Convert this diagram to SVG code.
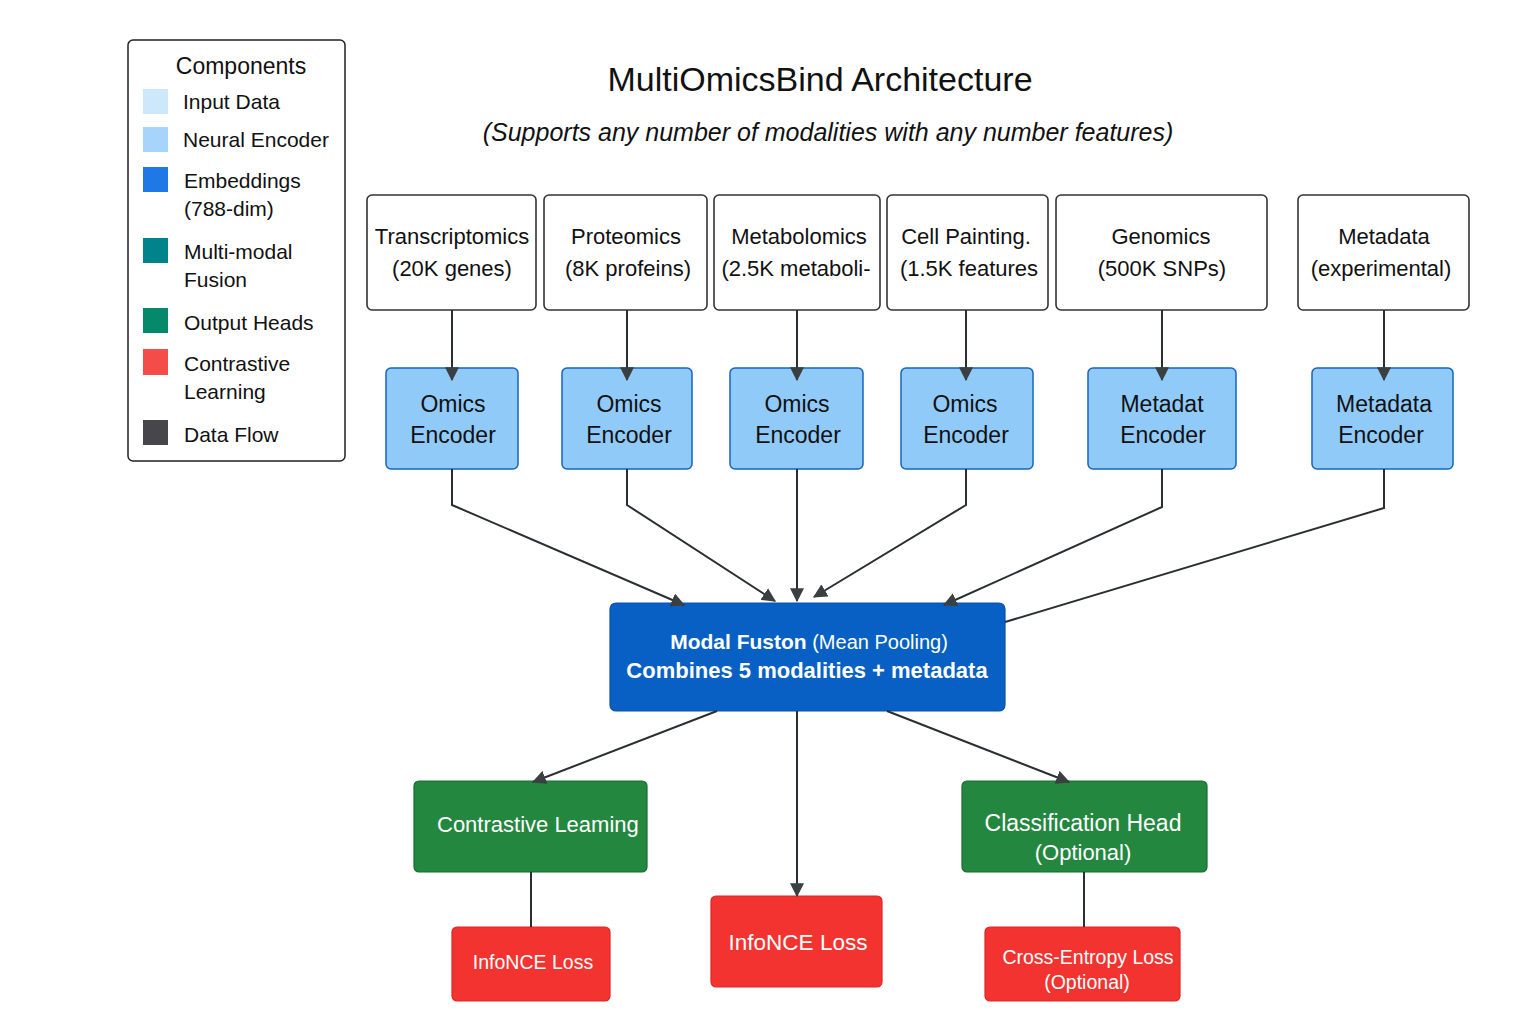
<svg xmlns="http://www.w3.org/2000/svg" width="1536" height="1024" viewBox="0 0 1536 1024">
<style>
text{font-family:"Liberation Sans",Arial,sans-serif;fill:#111}
.lg{font-size:21px}
.in rect{fill:#fff;stroke:#333;stroke-width:1.6}
.in text{font-size:22px;text-anchor:middle}
.enc rect{fill:#90caf9;stroke:#1565c0;stroke-width:1.5}
.enc text{font-size:23px;text-anchor:middle}
.grn rect{fill:#23873f;stroke:#1a6b31;stroke-width:1.2}
.red rect{fill:#f33330;stroke:#e02626;stroke-width:1.2}
.w{fill:#fff}
.conn path{fill:none;stroke:#2b2f31;stroke-width:2}
</style>
<defs>
<marker id="a" viewBox="0 0 12 12" refX="11" refY="6" markerWidth="14" markerHeight="14" markerUnits="userSpaceOnUse" orient="auto">
<path d="M0,0 L12,6 L0,12 z" fill="#3a3f42"/>
</marker>
</defs>
<rect width="1536" height="1024" fill="#fff"/>

<g id="legend">
<rect x="128" y="40" width="217" height="421" rx="5" fill="#fff" stroke="#222" stroke-width="1.5"/>
<text x="241" y="74" font-size="23" text-anchor="middle">Components</text>
<rect x="143" y="89" width="25" height="25" fill="#cde7fb"/>
<text class="lg" x="183" y="109">Input Data</text>
<rect x="143" y="127" width="25" height="25" fill="#a6d4fa"/>
<text class="lg" x="183" y="147">Neural Encoder</text>
<rect x="143" y="167" width="25" height="25" fill="#1e78e6"/>
<text class="lg" x="184" y="188">Embeddings</text>
<text class="lg" x="184" y="216">(788-dim)</text>
<rect x="143" y="238" width="25" height="25" fill="#00838a"/>
<text class="lg" x="184" y="259">Multi-modal</text>
<text class="lg" x="184" y="287">Fusion</text>
<rect x="143" y="308" width="25" height="25" fill="#06896a"/>
<text class="lg" x="184" y="330">Output Heads</text>
<rect x="143" y="349" width="25" height="26" fill="#f44c48"/>
<text class="lg" x="184" y="371">Contrastive</text>
<text class="lg" x="184" y="399">Learning</text>
<rect x="143" y="420" width="25" height="25" fill="#46464b"/>
<text class="lg" x="184" y="442">Data Flow</text>
</g>

<g id="title">
<text x="820" y="91" font-size="34" text-anchor="middle">MultiOmicsBind Architecture</text>
<text x="828" y="141" font-size="25" font-style="italic" text-anchor="middle">(Supports any number of modalities with any number features)</text>
</g>

<g id="in-transcriptomics" class="in"><rect x="367" y="195" width="169" height="115" rx="5"/><text x="452" y="244" font-size="21">Transcriptomics</text><text x="452" y="276">(20K genes)</text></g>
<g id="in-proteomics" class="in"><rect x="544" y="195" width="163" height="115" rx="5"/><text x="626" y="244">Proteomics</text><text x="628" y="276">(8K profeins)</text></g>
<g id="in-metabolomics" class="in"><rect x="714" y="195" width="166" height="115" rx="5"/><text x="799" y="244">Metabolomics</text><text x="796" y="276">(2.5K metaboli-</text></g>
<g id="in-cellpainting" class="in"><rect x="887" y="195" width="161" height="115" rx="5"/><text x="966" y="244">Cell Painting.</text><text x="969" y="276">(1.5K features</text></g>
<g id="in-genomics" class="in"><rect x="1056" y="195" width="211" height="115" rx="5"/><text x="1161" y="244">Genomics</text><text x="1162" y="276">(500K SNPs)</text></g>
<g id="in-metadata" class="in"><rect x="1298" y="195" width="171" height="115" rx="5"/><text x="1384" y="244">Metadata</text><text x="1381" y="276">(experimental)</text></g>

<g id="enc-1" class="enc"><rect x="386" y="368" width="132" height="101" rx="5"/><text x="453" y="412">Omics</text><text x="453" y="443">Encoder</text></g>
<g id="enc-2" class="enc"><rect x="562" y="368" width="130" height="101" rx="5"/><text x="629" y="412">Omics</text><text x="629" y="443">Encoder</text></g>
<g id="enc-3" class="enc"><rect x="730" y="368" width="133" height="101" rx="5"/><text x="797" y="412">Omics</text><text x="798" y="443">Encoder</text></g>
<g id="enc-4" class="enc"><rect x="901" y="368" width="132" height="101" rx="5"/><text x="965" y="412">Omics</text><text x="966" y="443">Encoder</text></g>
<g id="enc-5" class="enc"><rect x="1088" y="368" width="148" height="101" rx="5"/><text x="1162" y="412">Metadat</text><text x="1163" y="443">Encoder</text></g>
<g id="enc-6" class="enc"><rect x="1312" y="368" width="141" height="101" rx="5"/><text x="1384" y="412">Metadata</text><text x="1381" y="443">Encoder</text></g>

<g id="fusion">
<rect x="610" y="603" width="395" height="108" rx="6" fill="#0860c4" stroke="#0a50a8" stroke-width="1.2"/>
<text x="809" y="649" font-size="21" text-anchor="middle" class="w"><tspan font-weight="bold">Modal Fuston</tspan><tspan font-size="20"> (Mean Pooling)</tspan></text>
<text x="807" y="678" font-size="22" font-weight="bold" text-anchor="middle" class="w">Combines 5 modalities + metadata</text>
</g>

<g id="head-contrastive" class="grn"><rect x="414" y="781" width="233" height="91" rx="5"/><text x="437" y="832" font-size="22" class="w">Contrastive Leaming</text></g>
<g id="head-classification" class="grn"><rect x="962" y="781" width="245" height="91" rx="5"/><text x="1083" y="831" font-size="23" text-anchor="middle" class="w">Classification Head</text><text x="1083" y="860" font-size="22" text-anchor="middle" class="w">(Optional)</text></g>

<g id="loss-infonce-left" class="red"><rect x="452" y="927" width="158" height="74" rx="5"/><text x="533" y="969" font-size="19.5" text-anchor="middle" class="w">InfoNCE Loss</text></g>
<g id="loss-infonce-mid" class="red"><rect x="711" y="896" width="171" height="91" rx="5"/><text x="798" y="950" font-size="22.5" text-anchor="middle" class="w">InfoNCE Loss</text></g>
<g id="loss-ce" class="red"><rect x="985" y="927" width="195" height="74" rx="5"/><text x="1088" y="964" font-size="19.5" text-anchor="middle" class="w">Cross-Entropy Loss</text><text x="1087" y="989" font-size="19.5" text-anchor="middle" class="w">(Optional)</text></g>

<g id="connectors" class="conn">
<path d="M452,310 V380" marker-end="url(#a)"/>
<path d="M627,310 V380" marker-end="url(#a)"/>
<path d="M797,310 V380" marker-end="url(#a)"/>
<path d="M966,310 V380" marker-end="url(#a)"/>
<path d="M1162,310 V380" marker-end="url(#a)"/>
<path d="M1384,310 V380" marker-end="url(#a)"/>
<path d="M452,469 V505 L684,605" marker-end="url(#a)"/>
<path d="M627,469 V505 L775,601" marker-end="url(#a)"/>
<path d="M797,469 V601" marker-end="url(#a)"/>
<path d="M966,469 V505 L814,597" marker-end="url(#a)"/>
<path d="M1162,469 V507 L944,605" marker-end="url(#a)"/>
<path d="M1384,469 V508 L1005,622"/>
<path d="M717,711 L533,782" marker-end="url(#a)"/>
<path d="M797,711 V896" marker-end="url(#a)"/>
<path d="M887,711 L1069,782" marker-end="url(#a)"/>
<path d="M531,872 V927"/>
<path d="M1084,872 V927"/>
</g>
</svg>
